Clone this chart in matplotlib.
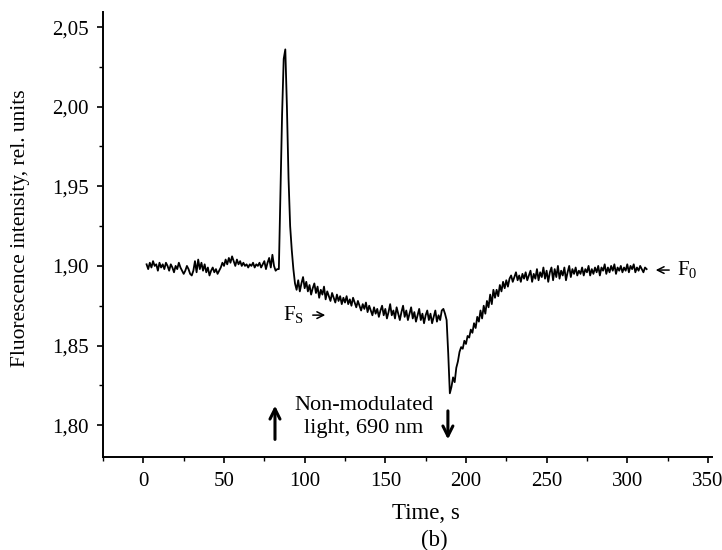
import numpy as np
import matplotlib
matplotlib.use('Agg')
import matplotlib.pyplot as plt
from matplotlib.ticker import MultipleLocator, FuncFormatter

plt.rcParams['font.family'] = ['Liberation Serif', 'DejaVu Serif']
plt.rcParams['mathtext.fontset'] = 'custom'
plt.rcParams['mathtext.rm'] = 'Liberation Serif'

# fluorescence trace, one reading per second starting at t = 2 s
baseline = [
    1.901, 1.898, 1.902, 1.899, 1.903, 1.900, 1.901, 1.897, 1.902, 1.899,
    1.901, 1.898, 1.902, 1.900, 1.897, 1.901, 1.899, 1.896, 1.900, 1.898,
    1.902, 1.899, 1.897, 1.895, 1.897, 1.900, 1.898, 1.895, 1.894, 1.897,
    1.903, 1.896, 1.904, 1.898, 1.902, 1.897, 1.901, 1.896, 1.899, 1.894,
    1.897, 1.899, 1.896, 1.898, 1.895, 1.897, 1.899, 1.902, 1.900, 1.904,
    1.901, 1.905, 1.902, 1.906, 1.903, 1.900, 1.904, 1.901, 1.903, 1.900,
    1.902, 1.900, 1.901, 1.899, 1.901, 1.900, 1.902, 1.899, 1.901, 1.900,
    1.902, 1.899, 1.901, 1.903, 1.898, 1.902, 1.905, 1.899, 1.907, 1.900,
    1.897, 1.898,
]
peak = [
    1.898, 1.945, 1.995, 2.030, 2.036, 2.000, 1.955, 1.925, 1.910, 1.898,
    1.889, 1.885,
]
plateau = [
    1.891, 1.884, 1.889, 1.893, 1.886, 1.890, 1.884, 1.888, 1.882, 1.886,
    1.889, 1.883, 1.887, 1.880, 1.885, 1.882, 1.887, 1.879, 1.884, 1.881,
    1.878, 1.883, 1.880, 1.877, 1.882, 1.878, 1.881, 1.876, 1.880, 1.877,
    1.881, 1.876, 1.879, 1.875, 1.880, 1.877, 1.874, 1.878, 1.875, 1.872,
    1.876, 1.873, 1.877, 1.871, 1.875, 1.872, 1.869, 1.874, 1.870, 1.873,
    1.868, 1.872, 1.875, 1.869, 1.873, 1.867, 1.871, 1.876, 1.869, 1.872,
    1.867, 1.874, 1.870, 1.866, 1.871, 1.875, 1.868, 1.872, 1.866, 1.870,
    1.874, 1.867, 1.871, 1.865, 1.869, 1.873, 1.866, 1.870, 1.864, 1.869,
    1.872, 1.866, 1.870, 1.864, 1.868, 1.872, 1.865, 1.869, 1.866, 1.872,
    1.873, 1.870, 1.866,
]
dip = [
    1.845, 1.820, 1.824, 1.830, 1.827, 1.836, 1.840, 1.846, 1.849, 1.848,
]
recovery = [
    1.853, 1.851, 1.856, 1.855, 1.860, 1.858, 1.864, 1.861, 1.868, 1.865,
    1.872, 1.867, 1.875, 1.870, 1.878, 1.874, 1.882, 1.876, 1.885, 1.880,
    1.885, 1.881, 1.888, 1.884, 1.890, 1.886, 1.891, 1.887, 1.892, 1.894,
    1.890, 1.893, 1.896, 1.891, 1.894, 1.890, 1.895, 1.892, 1.896, 1.891,
    1.894, 1.897, 1.890, 1.895, 1.892, 1.898, 1.891, 1.896, 1.893, 1.899,
    1.892, 1.897, 1.890, 1.896, 1.899, 1.891, 1.898, 1.893, 1.900, 1.892,
    1.897, 1.894, 1.899, 1.891, 1.896, 1.900, 1.893, 1.898, 1.895, 1.899,
    1.894, 1.897, 1.895, 1.899, 1.894, 1.898, 1.896, 1.900, 1.894, 1.898,
    1.895, 1.899, 1.896, 1.900, 1.894, 1.899, 1.897, 1.901, 1.895, 1.899,
    1.896, 1.900, 1.897, 1.901, 1.895, 1.899, 1.897, 1.900, 1.896, 1.899,
    1.897, 1.901, 1.896, 1.900, 1.898, 1.901, 1.896, 1.899, 1.897, 1.900,
    1.898, 1.896, 1.899, 1.898,
]
t_start = 2

intensity = baseline + peak + plateau + dip + recovery
time = np.arange(t_start, t_start + len(intensity))

fig = plt.figure(figsize=(7.22, 5.5), dpi=100)
ax = fig.add_axes([0.1427, 0.1691, 0.8434, 0.8089])

ax.plot(time, intensity, color='black', lw=1.3)

ax.set_xlim(-25, 352.5)
ax.set_ylim(1.780, 2.0594)
ax.xaxis.set_major_locator(MultipleLocator(50))
ax.xaxis.set_minor_locator(MultipleLocator(25))
ax.yaxis.set_major_locator(MultipleLocator(0.05))
ax.yaxis.set_minor_locator(MultipleLocator(0.025))
ax.yaxis.set_major_formatter(FuncFormatter(lambda v, _: ('%.2f' % v).replace('.', ',')))

for side in ['top', 'right']:
    ax.spines[side].set_visible(False)
for side in ['left', 'bottom']:
    ax.spines[side].set_linewidth(1.4)
ax.tick_params(which='major', direction='out', length=4.5, width=1.2, labelsize=15, pad=6)
ax.tick_params(which='minor', direction='out', length=3, width=1.0)

fig.text(0.590, 0.067, 'Time, s', ha='center', va='center', fontsize=16.5)
fig.text(0.601, 0.018, '(b)', ha='center', va='center', fontsize=16.5)
fig.text(0.028, 0.585, 'Fluorescence intensity, rel. units', rotation=90,
         ha='center', va='center', fontsize=15.5)

# F_S and F_0 markers with their small arrows
ax.text(86.7, 1.869, r'F$_\mathrm{S}$', ha='left', va='center', fontsize=15)
ax.annotate('', xy=(114.5, 1.8691), xytext=(103.3, 1.8691),
            arrowprops=dict(arrowstyle='->', lw=1.1, color='black', mutation_scale=12))
ax.text(330.8, 1.8974, r'F$_\mathrm{0}$', ha='left', va='center', fontsize=15)
ax.annotate('', xy=(315.9, 1.8974), xytext=(327.7, 1.8974),
            arrowprops=dict(arrowstyle='->', lw=1.1, color='black', mutation_scale=12))

ax.text(136.6, 1.8053, 'Non-modulated\nlight, 690 nm', ha='center', va='center',
        fontsize=16, linespacing=1.3)

ax.annotate('', xy=(81.6, 1.8140), xytext=(81.6, 1.7893),
            arrowprops=dict(arrowstyle='->', lw=2.2, color='black',
                            mutation_scale=18))
ax.annotate('', xy=(188.8, 1.7893), xytext=(188.8, 1.8107),
            arrowprops=dict(arrowstyle='->', lw=2.2, color='black',
                            mutation_scale=18))

fig.savefig('out.png', dpi=100)
